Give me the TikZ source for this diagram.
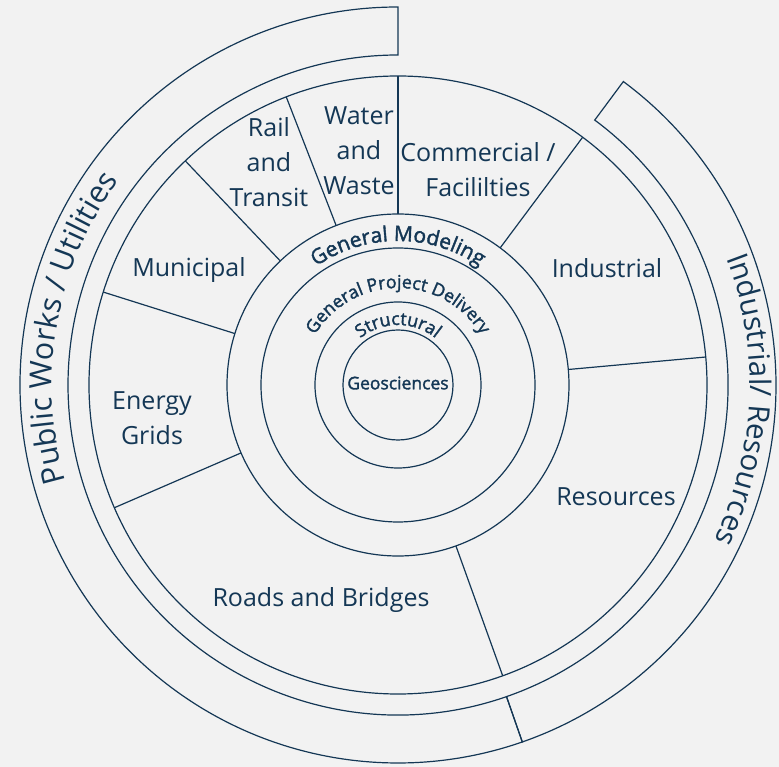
\documentclass[tikz,border=0pt]{standalone}
\usepackage{fontspec}
\setmainfont{Open Sans}
\newfontfamily\semib{Open Sans}[FakeBold=1.8]
\usetikzlibrary{decorations.text}
\definecolor{navy}{RGB}{20,55,85}
\definecolor{bg}{RGB}{242,242,242}
\newcommand\gmfont{\semib\fontsize{21}{21}\selectfont}
\newcommand\smfont{\semib\fontsize{17.8}{17.8}\selectfont}
\newcommand\geofont{\semib\fontsize{17.5}{17.5}\selectfont}
\newcommand\pwfont{\fontsize{30.5}{30.5}\selectfont}
\newcommand\irfont{\fontsize{29.5}{29.5}\selectfont}
\tikzset{
  ln/.style={draw=navy, line width=1.2pt},
  lbl/.style={text=navy, font=\fontsize{25}{35}\selectfont, align=center, inner sep=0pt},
}
\begin{document}
\begin{tikzpicture}
\fill[bg] (-398pt,-382pt) rectangle (381pt,385pt);
\useasboundingbox (-398pt,-382pt) rectangle (381pt,385pt);

% outer bands
\draw[ln] (90:330pt) -- (90:378pt) arc[start angle=90, end angle=289.2, radius=378pt]
  -- (289.2:330pt) arc[start angle=289.2, end angle=90, radius=330pt] -- cycle;
\draw[ln] (53.4:330pt) -- (53.4:378pt) arc[start angle=53.4, end angle=-70.8, radius=378pt]
  -- (-70.8:330pt) arc[start angle=-70.8, end angle=53.4, radius=330pt] -- cycle;

% rings
\draw[ln] (0,0) circle[radius=309pt];
\draw[ln] (0,0) circle[radius=171pt];
\draw[ln] (0,0) circle[radius=137pt];
\draw[ln] (0,0) circle[radius=83pt];
\draw[ln] (0,0) circle[radius=55pt];

% dividers
\foreach \a in {90,111.2,133.5,162.5,203.4,-70.2,5.2,53.3}
  \draw[ln] (\a:171pt) -- (\a:309pt);

% sector labels
\node[lbl] (rail) at (-129pt,223pt) {Rail\\and\\Transit};
\node[lbl] (water) at (-39pt,234pt) {Water\\and\\Waste};
\node[lbl] (comm) at (80pt,215pt) {Commercial /\\Facililties};
\node[lbl] (ind) at (209pt,117pt) {Industrial};
\node[lbl] (res) at (218pt,-112pt) {Resources};
\node[lbl] (roads) at (-77pt,-215pt) {Roads and Bridges};
\node[lbl] (energy) at (-246pt,-33pt) {Energy\\Grids};
\node[lbl] (muni) at (-209pt,115pt) {Municipal};

% ring labels
\path[decorate, decoration={text along path, text align=center, text color=navy,
  text={|\gmfont|General Modeling}}]
  (180:144pt) arc[start angle=180, end angle=0, radius=144pt];
\path[decorate, decoration={text along path, text align=center, text color=navy,
  text={|\smfont|General Project Delivery}}]
  (180:97pt) arc[start angle=180, end angle=0, radius=97pt];
\path[decorate, decoration={text along path, text align=center, text color=navy,
  text={|\smfont|Structural}}]
  (180:60pt) arc[start angle=180, end angle=0, radius=60pt];
\node[text=navy, font=\geofont, inner sep=0pt] (geo) at (0,2pt) {Geosciences};

% band labels
\path[decorate, decoration={text along path, text align=center, text color=navy,
  text={|\pwfont|Public Works / Utilities}}]
  (250:346pt) arc[start angle=250, end angle=90, radius=346pt];
\path[decorate, decoration={text along path, text align=center, text color=navy,
  text={|\irfont|Industrial/ Resources}}]
  (43:352pt) arc[start angle=43, end angle=-48, radius=352pt];
\end{tikzpicture}
\end{document}
